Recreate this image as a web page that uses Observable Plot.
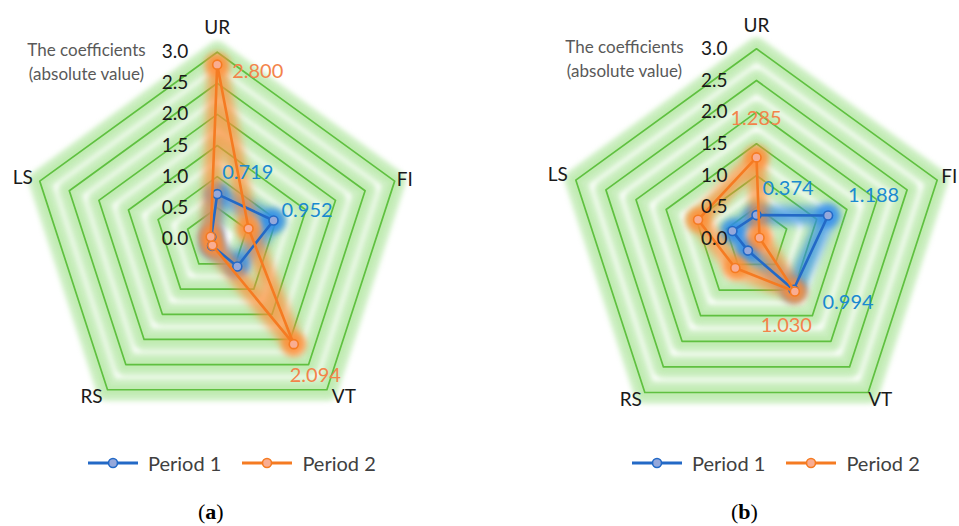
<!DOCTYPE html>
<html>
<head>
<meta charset="utf-8">
<script src="https://cdn.jsdelivr.net/npm/d3@7"></script>
<script src="https://cdn.jsdelivr.net/npm/@observablehq/plot@0.6"></script>
<style>
  html, body { margin: 0; padding: 0; background: #fff; }
  #wrap { position: relative; width: 959px; height: 526px; overflow: hidden; font-family: Lato, "Open Sans", sans-serif; }
  .panel { position: absolute; top: 0; width: 480px; height: 526px; }
  .panel svg { display: block; overflow: visible; }
  .legend { position: absolute; top: 449px; height: 28px; display: flex; align-items: center; font-size: 20px; color: #404040; white-space: nowrap; }
  .legend .item { display: flex; align-items: center; margin-right: 21px; }
  .legend svg { margin-right: 10px; }
  .caption { position: absolute; top: 499px; font-family: "Liberation Serif", "DejaVu Serif", serif; font-size: 22px; color: #000; }
</style>
</head>
<body>
<div id="wrap"></div>
<script>
// ---- data ----
const AXES = ["UR", "FI", "VT", "RS", "LS"];
const TICKS = [0, 0.5, 1.0, 1.5, 2.0, 2.5, 3.0];
const SERIES = ["Period 1", "Period 2"];
const A_PERIOD1 = [0.719, 0.952, 0.55, 0.14, 0.10];
const A_PERIOD2 = [2.800, 0.53, 2.094, 0.13, 0.11];
const B_PERIOD1 = [0.374, 1.188, 0.994, 0.23, 0.40];
const B_PERIOD2 = [1.285, 0.05, 1.030, 0.57, 0.97];
const PANEL_LABELS = ["a", "b"];
const AXIS_TITLE = "The coefficients\n(absolute value)";

// ---- styles ----
const LINE = ["#2369C6", "#F57B22"];
const FILL = ["#95A8DB", "#F9AD92"];
const GLOW = ["#2E8BEA", "#FF8C36"];
const LABEL = ["#1A8AD0", "#F3834A"];

function xy(v, i) {
  const a = i * 2 * Math.PI / AXES.length;
  return {x: v * Math.sin(a), y: v * Math.cos(a)};
}

const panels = [
  {
    left: 0, cx: 216.7, cy: 238.3, R: 186.6, titleDx: 86, titleDy: 60,
    p1: A_PERIOD1, p2: A_PERIOD2,
    axisOff: {UR: [0, -24, "middle"], FI: [2, -1, "start"], VT: [17, 7, "middle"], RS: [-16, 7, "middle"], LS: [-17, -3, "middle"]},
    labels: [{s: 0, i: 0, dx: 5, dy: -21}, {s: 0, i: 1, dx: 8, dy: -10}, {s: 1, i: 0, dx: 15, dy: 7}, {s: 1, i: 2, dx: -4, dy: 31}],
    legendLeft: 88, capLeft: 198
  },
  {
    left: 480, cx: 276, cy: 238.3, R: 190, titleDx: 144, titleDy: 57,
    p1: B_PERIOD1, p2: B_PERIOD2,
    axisOff: {UR: [0, -23, "middle"], FI: [4, -3, "start"], VT: [12, 7, "middle"], RS: [-14, 7, "middle"], LS: [-18, -5, "middle"]},
    labels: [{s: 1, i: 0, dx: -26, dy: -39}, {s: 0, i: 0, dx: 6, dy: -27}, {s: 0, i: 1, dx: 20, dy: -20}, {s: 0, i: 2, dx: 29, dy: 13}, {s: 1, i: 2, dx: -34, dy: 34}],
    legendLeft: 152, capLeft: 251
  }
];

const wrap = document.getElementById("wrap");

panels.forEach((pn, k) => {
  const pts = [];
  [pn.p1, pn.p2].forEach((vals, s) => vals.forEach((v, i) => pts.push({s, series: SERIES[s], axis: AXES[i], i, value: v, ...xy(v, i)})));
  const rings = [];
  TICKS.filter(t => t > 0).forEach(t => AXES.forEach((a, i) => rings.push({t, ...xy(t, i)})));
  const tickPts = TICKS.map(t => ({t, x: 0, y: t}));
  const axisPts = AXES.map((a, i) => ({axis: a, ...xy(3, i)}));

  const marks = [
    // grid glow + rings
    Plot.line(rings, {x: "x", y: "y", z: "t", curve: "linear-closed", stroke: "#9FE08A", strokeWidth: 22, strokeOpacity: 0.55, imageFilter: "blur(2.5px)"}),
    Plot.line(rings, {x: "x", y: "y", z: "t", curve: "linear-closed", stroke: "#B9EAA8", strokeWidth: 9, strokeOpacity: 0.6, imageFilter: "blur(1.5px)"}),
    Plot.line(rings, {x: "x", y: "y", z: "t", curve: "linear-closed", stroke: "#5FC040", strokeWidth: 1.7})
  ];
  // series glows
  [0, 1].forEach(s => {
    const d = pts.filter(p => p.s === s);
    marks.push(Plot.line(d, {x: "x", y: "y", curve: "linear-closed", stroke: GLOW[s], strokeWidth: 18, strokeOpacity: 0.7, imageFilter: "blur(4px)"}));
    marks.push(Plot.dot(d, {x: "x", y: "y", r: 12, fill: GLOW[s], fillOpacity: 0.75, imageFilter: "blur(3px)"}));
  });
  // series lines + markers
  [0, 1].forEach(s => {
    const d = pts.filter(p => p.s === s);
    marks.push(Plot.line(d, {x: "x", y: "y", curve: "linear-closed", stroke: LINE[s], strokeWidth: 2.6}));
    marks.push(Plot.dot(d, {x: "x", y: "y", r: 4.5, fill: FILL[s], stroke: LINE[s], strokeWidth: 1.6}));
  });
  // tick labels
  marks.push(Plot.text(tickPts, {x: "x", y: "y", text: d => d.t.toFixed(1), textAnchor: "end", dx: -29, fontSize: 19, fill: "#1a1a1a"}));
  // axis labels
  AXES.forEach(a => {
    const [dx, dy, anchor] = pn.axisOff[a];
    marks.push(Plot.text(axisPts.filter(d => d.axis === a), {x: "x", y: "y", text: "axis", dx, dy, textAnchor: anchor, fontSize: 19, fill: "#1a1a1a"}));
  });
  // data labels
  pn.labels.forEach(L => {
    const d = pts.filter(p => p.s === L.s && p.i === L.i);
    marks.push(Plot.text(d, {x: "x", y: "y", text: p => p.value.toFixed(3), dx: L.dx, dy: L.dy, textAnchor: "start", fontSize: 20, fill: LABEL[L.s]}));
  });
  // axis title
  marks.push(Plot.text([AXIS_TITLE], {frameAnchor: "top-left", text: d => d, dx: pn.titleDx, dy: pn.titleDy, textAnchor: "middle", lineAnchor: "middle", lineHeight: 1.41, fontSize: 17, fill: "#595959"}));

  const chart = Plot.plot({
    width: 480,
    height: 440,
    margin: 0,
    x: {domain: [-3, 3], range: [pn.cx - pn.R, pn.cx + pn.R], axis: null},
    y: {domain: [-3, 3], range: [pn.cy + pn.R, pn.cy - pn.R], axis: null},
    style: {fontFamily: "Lato, 'Open Sans', sans-serif", background: "transparent", overflow: "visible"},
    marks
  });

  const div = document.createElement("div");
  div.className = "panel";
  div.style.left = pn.left + "px";
  div.appendChild(chart);

  const leg = document.createElement("div");
  leg.className = "legend";
  leg.style.left = pn.legendLeft + "px";
  SERIES.forEach((name, s) => {
    const it = document.createElement("div");
    it.className = "item";
    it.innerHTML = `<svg width="50" height="14"><line x1="0" y1="7" x2="50" y2="7" stroke="${LINE[s]}" stroke-width="3"/><circle cx="25" cy="7" r="4.5" fill="${FILL[s]}" stroke="${LINE[s]}" stroke-width="1.6"/></svg><span>${name}</span>`;
    leg.appendChild(it);
  });
  div.appendChild(leg);

  const cap = document.createElement("div");
  cap.className = "caption";
  cap.style.left = pn.capLeft + "px";
  cap.innerHTML = `(<b>${PANEL_LABELS[k]}</b>)`;
  div.appendChild(cap);

  wrap.appendChild(div);
});
</script>
</body>
</html>
